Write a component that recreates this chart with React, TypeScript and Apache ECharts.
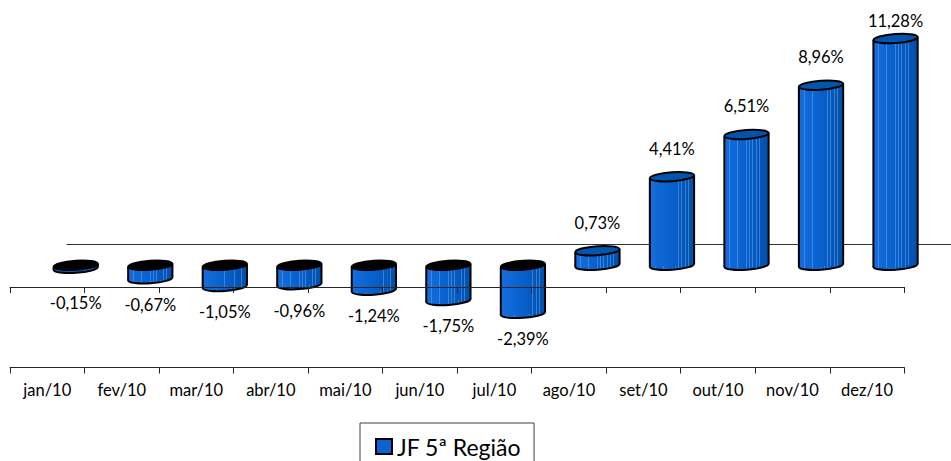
import React, { useEffect, useRef } from "react";
import * as echarts from "echarts";

const categories = ["jan/10", "fev/10", "mar/10", "abr/10", "mai/10", "jun/10", "jul/10", "ago/10", "set/10", "out/10", "nov/10", "dez/10"];
const values = [-0.15, -0.67, -1.05, -0.96, -1.24, -1.75, -2.39, 0.73, 4.41, 6.51, 8.96, 11.28];
const seriesName = "JF 5ª Região";

const FONT = "Lato";

function hex(c: number[]) {
  return "#" + c.map((v) => Math.round(v).toString(16).padStart(2, "0")).join("");
}
function lerp(a: number[], b: number[], t: number) {
  return a.map((v, k) => v + (b[k] - v) * t);
}
function baseColor(t: number) {
  const left = [22, 110, 222];
  const mid = [8, 96, 204];
  const right = [0, 80, 170];
  return t < 0.5 ? lerp(left, mid, t / 0.5) : lerp(mid, right, (t - 0.5) / 0.5);
}
function buildStops() {
  const stripes = [0.12, 0.3, 0.5, 0.57, 0.64, 0.72, 0.8, 0.87];
  const stops: { offset: number; color: string }[] = [{ offset: 0, color: hex(baseColor(0)) }];
  const w = 0.008;
  stripes.forEach((s) => {
    const b = baseColor(s);
    const light = lerp(b, [110, 165, 240], 0.5);
    stops.push({ offset: s - w, color: hex(b) });
    stops.push({ offset: s - w + 0.0001, color: hex(light) });
    stops.push({ offset: s + w, color: hex(light) });
    stops.push({ offset: s + w + 0.0001, color: hex(baseColor(s + w)) });
  });
  stops.push({ offset: 1, color: hex(baseColor(1)) });
  return stops;
}
const STOPS = buildStops();

function fmt(v: number) {
  return v.toFixed(2).replace(".", ",") + "%";
}

export default function App() {
  const ref = useRef<HTMLDivElement>(null);
  useEffect(() => {
    if (!ref.current) return;
    const chart = echarts.init(ref.current, undefined, { renderer: "svg" });
    const axisColor = "#262626";
    chart.setOption({
      animation: false,
      backgroundColor: "#ffffff",
      grid: [
        { left: 38.5, top: 0, width: 894.3, height: 345.72 },
        { left: 10, top: 287, width: 894.3, height: 80.5 },
        { left: 67, top: 244, width: 894.3, height: 40 },
      ],
      xAxis: [
        { gridIndex: 0, type: "category", data: categories, show: false },
        {
          gridIndex: 1,
          type: "category",
          data: categories,
          position: "top",
          z: 10,
          boundaryGap: true,
          axisLine: { show: true, onZero: false, lineStyle: { color: axisColor, width: 1 } },
          axisTick: { show: true, interval: 0, inside: true, length: 6, alignWithLabel: false, lineStyle: { color: axisColor, width: 1 } },
          axisLabel: { show: false },
        },
        {
          gridIndex: 1,
          type: "category",
          data: categories,
          position: "bottom",
          boundaryGap: true,
          axisLine: { show: true, onZero: false, lineStyle: { color: axisColor, width: 1 } },
          axisTick: { show: true, interval: 0, length: 6, alignWithLabel: false, lineStyle: { color: axisColor, width: 1 } },
          axisLabel: { interval: 0, fontSize: 16.5, fontFamily: FONT, color: "#000", margin: 14 },
        },
        {
          gridIndex: 2,
          type: "category",
          data: categories,
          position: "top",
          z: 0,
          axisLine: { onZero: false, lineStyle: { color: "#333", width: 1 } },
          axisTick: { show: false },
          axisLabel: { show: false },
        },
      ],
      yAxis: [
        { gridIndex: 0, type: "value", min: -4, max: 13.2, show: false },
        { gridIndex: 1, type: "value", min: 0, max: 1, show: false },
        { gridIndex: 2, type: "value", min: 0, max: 1, show: false },
      ],
      legend: {
        left: 360,
        top: 423,
        data: [{ name: seriesName, icon: "rect" }],
        itemWidth: 16,
        itemHeight: 15,
        itemStyle: { color: "#0a62d0", borderColor: "#000", borderWidth: 2 },
        textStyle: { fontSize: 23, lineHeight: 22, fontFamily: FONT, color: "#000" },
        borderColor: "#404040",
        borderWidth: 1,
        padding: [12, 13, 30, 15],
      },
      series: [
        {
          type: "custom",
          name: seriesName,
          xAxisIndex: 0,
          yAxisIndex: 0,
          clip: false,
          z: 5,
          itemStyle: { color: "#0a62d0" },
          data: values.map((v, i) => [i, v]),
          encode: { x: 0, y: 1 },
          renderItem: (params: any, api: any) => {
            const i = api.value(0);
            const v = api.value(1);
            const p0 = api.coord([i, 0]);
            const p1 = api.coord([i, v]);
            const band = api.size([1, 0])[0];
            const rx = band * 0.297;
            const ry = 4.5;
            const th = 0.07;
            const d = rx * Math.sin(th);
            const cx = p0[0];
            const yTop = Math.min(p0[1], p1[1]);
            const yBot = Math.max(p0[1], p1[1]);
            const grad = new echarts.graphic.LinearGradient(0, 0, 1, 0, STOPS);
            const labelY = v >= 0 ? Math.max(p1[1] - 28, 21) : Math.max(p1[1] + 26, p0[1] + 38);
            return {
              type: "group",
              children: [
                {
                  type: "ellipse",
                  x: cx,
                  y: yBot,
                  rotation: th,
                  shape: { cx: 0, cy: 0, rx, ry },
                  style: { fill: grad, stroke: "#000", lineWidth: 2 },
                },
                {
                  type: "polygon",
                  shape: {
                    points: [
                      [cx - rx, yTop + d],
                      [cx + rx, yTop - d],
                      [cx + rx, yBot - d],
                      [cx - rx, yBot + d],
                    ],
                  },
                  style: { fill: grad },
                },
                {
                  type: "line",
                  shape: { x1: cx - rx, y1: yTop + d, x2: cx - rx, y2: yBot + d },
                  style: { stroke: "#000", lineWidth: 2 },
                },
                {
                  type: "line",
                  shape: { x1: cx + rx, y1: yTop - d, x2: cx + rx, y2: yBot - d },
                  style: { stroke: "#000", lineWidth: 2 },
                },
                {
                  type: "ellipse",
                  x: cx,
                  y: yTop,
                  rotation: th,
                  shape: { cx: 0, cy: 0, rx, ry },
                  style: { fill: v >= 0 ? "#0055ad" : "#000", stroke: "#000", lineWidth: 2 },
                },
                {
                  type: "text",
                  x: cx,
                  y: labelY,
                  style: {
                    text: fmt(v),
                    fill: "#000",
                    fontSize: 16.5,
                    fontFamily: FONT,
                    align: "center",
                    verticalAlign: "middle",
                  },
                },
              ],
            };
          },
        },
      ],
    });
    return () => chart.dispose();
  }, []);
  return <div ref={ref} style={{ position: "fixed", left: 0, top: 0, width: 951, height: 461 }} />;
}
